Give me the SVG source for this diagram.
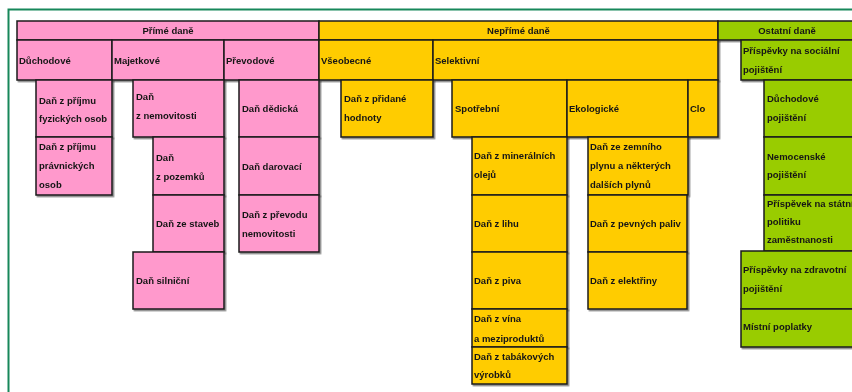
<svg xmlns="http://www.w3.org/2000/svg" width="852" height="392" viewBox="0 0 852 392">
<defs>
<filter id="sh" x="-5%" y="-5%" width="115%" height="120%">
<feDropShadow dx="1.5" dy="1.5" stdDeviation="0.6" flood-color="#555" flood-opacity="0.7"/>
</filter>
<style>
rect{stroke:#1a1a1a;stroke-width:1.5}
.p{fill:#ff99cc}
.y{fill:#ffcc00}
.g{fill:#99cc00}
text{font-family:"Liberation Sans",Arial,sans-serif;font-size:9.5px;font-weight:bold;fill:#151515}
.c{text-anchor:middle}
.n{filter:url(#sh)}
</style>
</defs>
<rect x="0" y="0" width="852" height="392" style="fill:#fff;stroke:none"/>
<path d="M8.5,392 V9.5 H852" fill="none" stroke="#17875a" stroke-width="2"/>
<g id="connectors"/>
<g id="prime" class="n"><rect class="p" x="17" y="21" width="302" height="19"/><text class="c" x="168" y="34">Přímé daně</text></g>
<g id="neprime" class="n"><rect class="y" x="319" y="21" width="399" height="19"/><text class="c" x="518.5" y="34">Nepřímé daně</text></g>
<g id="ostatni" class="n"><rect class="g" x="718" y="21" width="140" height="19"/><text class="c" x="787" y="34">Ostatní daně</text></g>
<g id="duchodove" class="n"><rect class="p" x="17" y="40" width="95" height="40"/><text x="19" y="64">Důchodové</text></g>
<g id="majetkove" class="n"><rect class="p" x="112" y="40" width="112" height="40"/><text x="114" y="64">Majetkové</text></g>
<g id="prevodove" class="n"><rect class="p" x="224" y="40" width="95" height="40"/><text x="226" y="64">Převodové</text></g>
<g id="vseobecne" class="n"><rect class="y" x="319" y="40" width="114" height="40"/><text x="321" y="64">Všeobecné</text></g>
<g id="selektivni" class="n"><rect class="y" x="433" y="40" width="285" height="40"/><text x="435" y="64">Selektivní</text></g>
<g id="socialni" class="n"><rect class="g" x="741" y="40" width="117" height="40"/><text x="743" y="54">Příspěvky na sociální</text><text x="743" y="73">pojištění</text></g>
<g id="fyzicke" class="n"><rect class="p" x="36" y="80" width="76" height="57"/><text x="39" y="103.5">Daň z příjmu</text><text x="39" y="122">fyzických osob</text></g>
<g id="pravnicke" class="n"><rect class="p" x="36" y="137" width="76" height="58"/><text x="39" y="150">Daň z příjmu</text><text x="39" y="169">právnických</text><text x="39" y="188">osob</text></g>
<g id="nemovitosti" class="n"><rect class="p" x="133" y="80" width="91" height="57"/><text x="136" y="100">Daň</text><text x="136" y="119">z nemovitosti</text></g>
<g id="pozemky" class="n"><rect class="p" x="153" y="137" width="71" height="58"/><text x="156" y="161">Daň</text><text x="156" y="180">z pozemků</text></g>
<g id="stavby" class="n"><rect class="p" x="153" y="195" width="71" height="57"/><text x="156" y="227">Daň ze staveb</text></g>
<g id="silnicni" class="n"><rect class="p" x="133" y="252" width="91" height="57"/><text x="136" y="284">Daň silniční</text></g>
<g id="dedicka" class="n"><rect class="p" x="239" y="80" width="80" height="57"/><text x="242" y="112">Daň dědická</text></g>
<g id="darovaci" class="n"><rect class="p" x="239" y="137" width="80" height="58"/><text x="242" y="170">Daň darovací</text></g>
<g id="prevod" class="n"><rect class="p" x="239" y="195" width="80" height="57"/><text x="242" y="218">Daň z převodu</text><text x="242" y="237">nemovitosti</text></g>
<g id="dph" class="n"><rect class="y" x="341" y="80" width="92" height="57"/><text x="344" y="102">Daň z přidané</text><text x="344" y="121">hodnoty</text></g>
<g id="spotrebni" class="n"><rect class="y" x="452" y="80" width="115" height="57"/><text x="455" y="112">Spotřební</text></g>
<g id="ekologicke" class="n"><rect class="y" x="567" y="80" width="121" height="57"/><text x="569" y="112">Ekologické</text></g>
<g id="clo" class="n"><rect class="y" x="688" y="80" width="30" height="57"/><text x="690" y="112">Clo</text></g>
<g id="oleje" class="n"><rect class="y" x="472" y="137" width="95" height="58"/><text x="474" y="159">Daň z minerálních</text><text x="474" y="178">olejů</text></g>
<g id="lih" class="n"><rect class="y" x="472" y="195" width="95" height="57"/><text x="474" y="227">Daň z lihu</text></g>
<g id="pivo" class="n"><rect class="y" x="472" y="252" width="95" height="57"/><text x="474" y="284">Daň z piva</text></g>
<g id="vino" class="n"><rect class="y" x="472" y="309" width="95" height="38"/><text x="474" y="322">Daň z vína</text><text x="474" y="342">a meziproduktů</text></g>
<g id="tabak" class="n"><rect class="y" x="472" y="347" width="95" height="37"/><text x="474" y="360">Daň z tabákových</text><text x="474" y="378">výrobků</text></g>
<g id="plyn" class="n"><rect class="y" x="588" y="137" width="100" height="58"/><text x="590" y="150">Daň ze zemního</text><text x="590" y="169">plynu a některých</text><text x="590" y="188">dalších plynů</text></g>
<g id="paliva" class="n"><rect class="y" x="588" y="195" width="99" height="57"/><text x="590" y="227">Daň z pevných paliv</text></g>
<g id="elektrina" class="n"><rect class="y" x="588" y="252" width="99" height="57"/><text x="590" y="284">Daň z elektřiny</text></g>
<g id="duchodove-poj" class="n"><rect class="g" x="764" y="80" width="94" height="57"/><text x="767" y="102">Důchodové</text><text x="767" y="121">pojištění</text></g>
<g id="nemocenske" class="n"><rect class="g" x="764" y="137" width="94" height="58"/><text x="767" y="160">Nemocenské</text><text x="767" y="178">pojištění</text></g>
<g id="zamestnanost" class="n"><rect class="g" x="764" y="195" width="94" height="56"/><text x="767" y="207">Příspěvek na státní</text><text x="767" y="225">politiku</text><text x="767" y="243">zaměstnanosti</text></g>
<g id="zdravotni" class="n"><rect class="g" x="741" y="251" width="117" height="58"/><text x="743" y="273">Příspěvky na zdravotní</text><text x="743" y="292">pojištění</text></g>
<g id="mistni" class="n"><rect class="g" x="741" y="309" width="117" height="38"/><text x="743" y="330">Místní poplatky</text></g>
</svg>
